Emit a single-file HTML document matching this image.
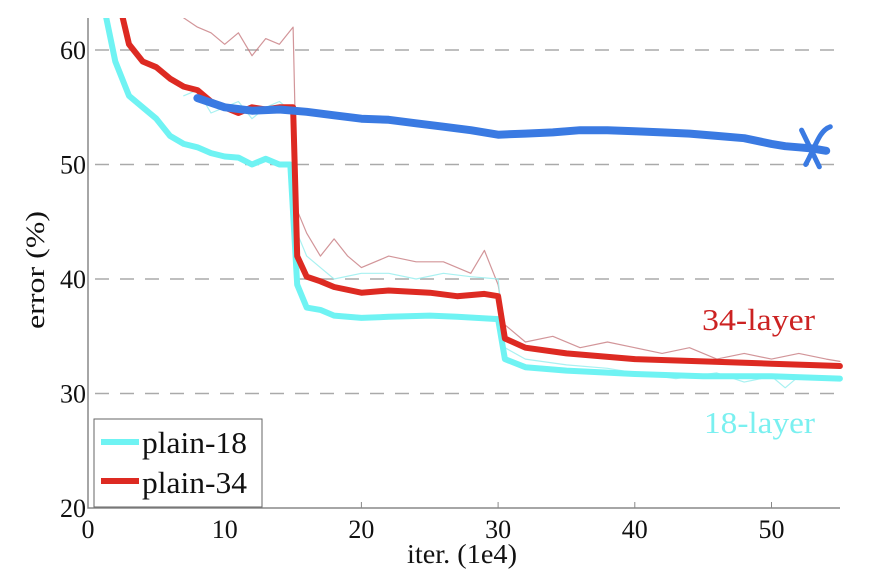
<!DOCTYPE html>
<html><head><meta charset="utf-8"><style>
html,body{margin:0;padding:0;background:#fff;width:884px;height:584px;overflow:hidden}
svg{display:block}
text{font-family:"Liberation Serif",serif}
</style></head><body>
<svg id="chart" width="884" height="584" viewBox="0 0 884 584"></svg>
<script>
const xTicks=[0,10,20,30,40,50];
const yTicks=[20,30,40,50,60];
const gridYs=[30,40,50,60];
const train18X=[1.3,2,3,4,5,6,7,8,9,10,11,12,13,14,14.8,15.3,16,17,18,20,22,25,27,30,30.5,32,35,40,45,50,55];
const train18Y=[63,59,56,55,54,52.5,51.8,51.5,51,50.7,50.6,50,50.5,50,50,39.5,37.5,37.3,36.8,36.6,36.7,36.8,36.7,36.5,33,32.3,32,31.7,31.5,31.5,31.3];
const train34X=[2.5,3,4,5,6,7,8,9,10,11,12,13,14,15,15.3,16,17,18,20,22,25,27,29,30,30.5,32,35,40,45,50,55];
const train34Y=[63,60.5,59,58.5,57.5,56.8,56.5,55.5,55,54.5,55,54.8,55,55,42,40.2,39.8,39.3,38.8,39,38.8,38.5,38.7,38.5,34.8,34,33.5,33,32.8,32.6,32.4];
const test34X=[7,8,9,10,11,12,13,14,15,15.3,16,17,18,19,20,22,24,26,28,29,30,30.5,32,34,36,38,40,42,44,46,48,50,52,54,55];
const test34Y=[62.8,62,61.5,60.5,61.5,59.5,61,60.5,62,46,44,42,43.5,42,41,42,41.5,41.5,40.5,42.5,39.5,36,34.5,35,34,34.5,34,33.5,34,33,33.5,33,33.5,33,32.8];
const test18X=[7,8,9,10,11,12,13,14,15,15.3,16,17,18,20,22,24,26,28,30,30.5,32,35,38,40,43,46,48,50,51,52,55];
const test18Y=[56,56.5,54.5,55,55.5,54,55,55.5,54.5,44,42,41,40,40.5,40.5,40,40.5,40.2,40,34,33,32.5,32.2,31.8,31.3,31.8,31,31.5,30.5,31.5,31.3];
const valX=[8,10,12,14,16,18,20,22,24,26,28,30,32,34,36,38,40,42,44,46,48,50,51,52,53,54];
const valY=[55.8,55,54.7,54.8,54.6,54.3,54,53.9,53.6,53.3,53,52.6,52.7,52.8,53,53,52.9,52.8,52.7,52.5,52.3,51.8,51.6,51.5,51.4,51.2];
const X0=88,XS=13.67,Y20=508,YS=11.45;
const sx=v=>X0+v*XS, sy=v=>Y20-(v-20)*YS;
const NS="http://www.w3.org/2000/svg";
const svg=document.getElementById('chart');
function mk(tag,attrs,parent){const e=document.createElementNS(NS,tag);for(const k in attrs)e.setAttribute(k,attrs[k]);(parent||svg).appendChild(e);return e;}
const defs=mk('defs',{});const cp=mk('clipPath',{id:'clip'},defs);mk('rect',{x:88,y:18,width:756,height:490},cp);
gridYs.forEach(g=>{const l=mk('line',{x1:95,x2:840,y1:sy(g),y2:sy(g),stroke:'#aaa','stroke-width':1.5,'stroke-dasharray':'14,11'});

});
const ax=mk('path',{d:`M88,18 V508 H840`,fill:'none',stroke:'#888','stroke-width':1.5});


xTicks.forEach(t=>{mk('line',{x1:sx(t),x2:sx(t),y1:508,y2:502,stroke:'#888'});
const tx=mk('text',{x:sx(t),y:538,'font-size':26,'text-anchor':'middle',fill:'#111'});tx.textContent=t;

});
yTicks.forEach(t=>{const tx=mk('text',{x:86,y:sy(t)+9,'font-size':26,'text-anchor':'end',fill:'#111'});tx.textContent=t;

});
const g=mk('g',{'clip-path':'url(#clip)'});
function line(xs,ys,col,w,name,op){const d=xs.map((x,i)=>(i?'L':'M')+sx(x).toFixed(1)+','+sy(ys[i]).toFixed(1)).join(' ');
const p=mk('path',{d,fill:'none',stroke:col,'stroke-width':w,'stroke-linejoin':'round','stroke-linecap':'round',opacity:op||1},g);

}
line(test34X,test34Y,'#c77a80',1.2,'test-34-line',0.8);
line(test18X,test18Y,'#9ef0f0',1.2,'test-18-line',0.9);
line(train18X,train18Y,'#6ff3f3',6,'train-18-line');
line(train34X,train34Y,'#dd2a22',6,'train-34-line');
line(valX,valY,'#3a7ae2',8,'validation-line');
const m=mk('path',{d:`M${sx(52.2)},${sy(53)} L${sx(53.5)},${sy(49.8)} M${sx(52.5)},${sy(50)} C${sx(53.2)},${sy(51.5)} ${sx(53.5)},${sy(53)} ${sx(54.3)},${sy(53.3)}`,fill:'none',stroke:'#3a7ae2','stroke-width':5,'stroke-linecap':'round'});


const l34=mk('text',{x:702,y:330,'font-size':31,fill:'#cc2222',textLength:113,lengthAdjust:'spacingAndGlyphs'});l34.textContent='34-layer';


const l18=mk('text',{x:704,y:433,'font-size':31,fill:'#7af0f0',textLength:111,lengthAdjust:'spacingAndGlyphs'});l18.textContent='18-layer';


const yl=mk('text',{x:0,y:0,'font-size':26,'text-anchor':'middle',fill:'#111',transform:'translate(44,270) rotate(-90)',textLength:118,lengthAdjust:'spacingAndGlyphs'});yl.textContent='error (%)';


const xl=mk('text',{x:462,y:563,'font-size':27,'text-anchor':'middle',fill:'#111',textLength:110,lengthAdjust:'spacingAndGlyphs'});xl.textContent='iter. (1e4)';


const lg=mk('g',{});


mk('rect',{x:94,y:419,width:168,height:88,fill:'#fff',stroke:'#666','stroke-width':1},lg);
mk('line',{x1:101,x2:139,y1:442,y2:442,stroke:'#6ff3f3','stroke-width':6},lg);
mk('line',{x1:101,x2:139,y1:481,y2:481,stroke:'#dd2a22','stroke-width':6},lg);
const t1=mk('text',{x:142,y:453,'font-size':31,fill:'#111',textLength:105,lengthAdjust:'spacingAndGlyphs'},lg);t1.textContent='plain-18';


const t2=mk('text',{x:142,y:493,'font-size':31,fill:'#111',textLength:105,lengthAdjust:'spacingAndGlyphs'},lg);t2.textContent='plain-34';


</script>
</body></html>
